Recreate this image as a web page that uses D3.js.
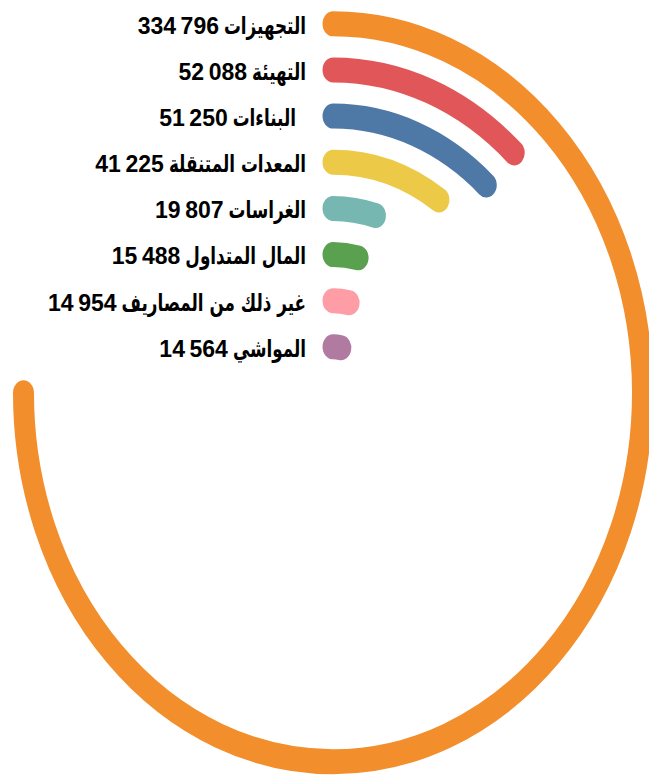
<!DOCTYPE html>
<html>
<head>
<meta charset="utf-8">
<script src="https://cdn.jsdelivr.net/npm/d3@7"></script>
<style>
  html, body { margin: 0; padding: 0; background: #fff; }
  svg { display: block; }
</style>
</head>
<body>
<svg id="chart" width="649" height="776"></svg>
<script>
const categories = ["التجهيزات", "التهيئة", "البناءات", "المعدات المتنقلة", "الغراسات", "المال المتداول", "غير ذلك من المصاريف", "المواشي"];
const values = [334796, 52088, 51250, 41225, 19807, 15488, 14954, 14564];
const colors = ["#F28E2B", "#E15759", "#4E79A7", "#EDC948", "#76B7B2", "#59A14F", "#FF9DA7", "#B07AA1"];
const labelPad = [false, false, true, false, false, false, false, false];

const W = 649, H = 776;
const cx = 333, cy = 392.75, sy = 1.192;
const outerR = 320, innerR = 28;
const nameScaleX = 0.7;

const svg = d3.select("#chart");

const rScale = d3.scaleBand().domain(categories).range([outerR, innerR]).paddingInner(0.458).paddingOuter(0);
const aScale = d3.scaleLinear().domain([0, d3.max(values)]).range([0, 1.5 * Math.PI]);

const fmt = d3.formatLocale({decimal: ",", thousands: "\u2009", grouping: [3], currency: ["", ""]}).format(",d");

const data = categories.map((c, i) => ({cat: c, value: values[i], color: colors[i], pad: labelPad[i]}));

const g = svg.append("g").attr("transform", `translate(${cx},${cy}) scale(1,${sy})`);

g.selectAll("path.bar")
  .data(data)
  .join("path")
  .attr("class", "bar")
  .attr("d", d => {
    const p = d3.path();
    const r = rScale(d.cat) + rScale.bandwidth() / 2;
    p.arc(0, 0, r, -Math.PI / 2, aScale(d.value) - Math.PI / 2, false);
    return p.toString();
  })
  .attr("fill", "none")
  .attr("stroke", d => d.color)
  .attr("stroke-width", rScale.bandwidth())
  .attr("stroke-linecap", "round");

const labels = svg.append("g").selectAll("g.lab")
  .data(data)
  .join("g")
  .attr("class", "lab")
  .attr("transform", d => `translate(${cx - 27},${cy - (rScale(d.cat) + rScale.bandwidth() / 2) * sy})`);

labels.each(function(d) {
  const gl = d3.select(this);
  const padW = d.pad ? 10 : 0;
  const ng = gl.append("g").attr("transform", `translate(${-padW},0) scale(${nameScaleX},1)`);
  const name = ng.append("text")
    .attr("x", 0)
    .attr("y", 9.8)
    .attr("text-anchor", "start")
    .attr("direction", "rtl")
    .style("font-family", "'DejaVu Sans', sans-serif")
    .style("font-weight", "bold")
    .style("font-size", "24px")
    .style("fill", "#000")
    .text(d.cat);
  const bb = name.node().getBBox();
  const left = -padW + bb.x * nameScaleX;
  gl.append("text")
    .attr("x", left - 5)
    .attr("y", 9.8)
    .attr("text-anchor", "end")
    .style("font-family", "'Liberation Sans', Arial, sans-serif")
    .style("font-weight", "bold")
    .style("font-size", "23px")
    .style("fill", "#000")
    .text(fmt(d.value));
});
</script>
</body>
</html>
